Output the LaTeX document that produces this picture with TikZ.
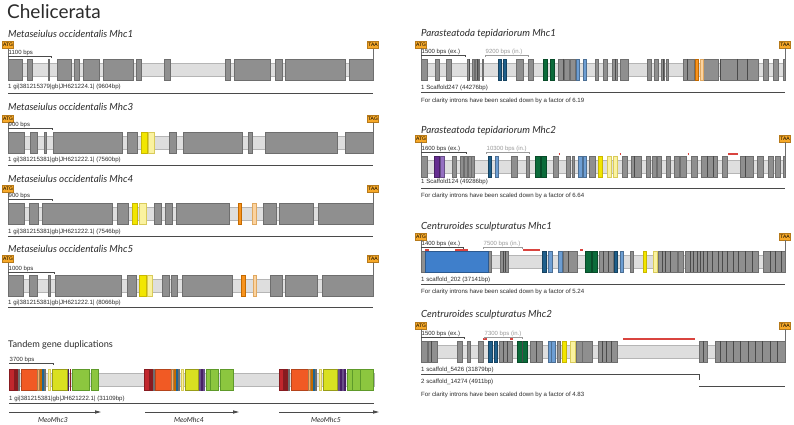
\documentclass[tikz,border=0pt]{standalone}
\usepackage{fontspec}
\setmainfont{Liberation Sans}
\newfontfamily\tfont{Lato}
\usetikzlibrary{arrows.meta}
\definecolor{exg}{HTML}{8F8F8F}
\definecolor{exb}{HTML}{6E6E6E}
\definecolor{intf}{HTML}{DEDEDE}
\definecolor{intb}{HTML}{B5B5B5}
\definecolor{dln}{HTML}{4A4A4A}
\definecolor{cyel}{HTML}{F2E600}
\definecolor{cyelb}{HTML}{C9B800}
\definecolor{clyel}{HTML}{FAF2A0}
\definecolor{clyelb}{HTML}{D9CB5A}
\definecolor{cora}{HTML}{F7931E}
\definecolor{corab}{HTML}{C46A00}
\definecolor{clora}{HTML}{FBD3A0}
\definecolor{clorab}{HTML}{E0A860}
\definecolor{cred}{HTML}{C1272D}
\definecolor{corr}{HTML}{F15A24}
\definecolor{ctyel}{HTML}{D9E021}
\definecolor{cgrn}{HTML}{8CC63F}
\definecolor{cgrnb}{HTML}{5E9A2A}
\definecolor{cblu}{HTML}{2B8FD0}
\definecolor{ctan}{HTML}{F4B06A}
\definecolor{cdb}{HTML}{1F5F8B}
\definecolor{csb}{HTML}{6D9ED3}
\definecolor{cdg}{HTML}{0B6B3A}
\definecolor{cpur}{HTML}{662D91}
\definecolor{clpur}{HTML}{9570C2}
\definecolor{cbig}{HTML}{3F7FCB}
\definecolor{cmark}{HTML}{D9443F}
\definecolor{ccod}{HTML}{F6A828}
\definecolor{ccodb}{HTML}{B77A1A}
\definecolor{ctxt}{HTML}{2B2B2B}
\definecolor{cgtx}{HTML}{9A9A9A}
\tikzset{
  x=1pt, y=-1pt,
  exg/.style={fill=exg,draw=exb,line width=0.4pt},
  exY/.style={fill=cyel,draw=cyelb,line width=0.4pt},
  exLY/.style={fill=clyel,draw=clyelb,line width=0.4pt},
  exO/.style={fill=cora,draw=corab,line width=0.4pt},
  exLO/.style={fill=clora,draw=clorab,line width=0.4pt},
  exR/.style={fill=cred,draw=cred!70!black,line width=0.4pt},
  exOR/.style={fill=corr,draw=corr!75!black,line width=0.4pt},
  exTY/.style={fill=ctyel,draw=ctyel!70!black,line width=0.4pt},
  exG/.style={fill=cgrn,draw=cgrnb,line width=0.4pt},
  exB/.style={fill=cblu,draw=cblu!70!black,line width=0.4pt},
  exT/.style={fill=ctan,draw=ctan!70!black,line width=0.4pt},
  exDB/.style={fill=cdb,draw=cdb!70!black,line width=0.4pt},
  exSB/.style={fill=csb,draw=csb!70!black,line width=0.4pt},
  exDG/.style={fill=cdg,draw=cdg!70!black,line width=0.4pt},
  exP/.style={fill=cpur,draw=cpur!70!black,line width=0.4pt},
  exLP/.style={fill=clpur,draw=clpur!70!black,line width=0.4pt},
  exBIG/.style={fill=cbig,draw=cbig!70!black,line width=0.4pt},
  codon/.style={fill=ccod,draw=ccodb,line width=0.4pt,minimum width=11pt,minimum height=7pt,inner sep=0pt,font=\fontsize{5}{5.5}\selectfont},
  codl/.style={draw=exb,line width=0.4pt},
  lab/.style={anchor=west,inner sep=0pt,text=ctxt,font=\fontsize{6.1}{7}\selectfont},
  ttl/.style={anchor=west,inner sep=0pt,text=ctxt,font=\tfont\itshape\fontsize{9.8}{11}\selectfont},
  uline/.style={draw=dln,line width=0.6pt},
  sbl/.style={anchor=south west,inner sep=0.5pt,text=ctxt,font=\fontsize{6}{7}\selectfont},
  sbg/.style={anchor=south west,inner sep=0.5pt,text=cgtx,font=\fontsize{6}{7}\selectfont},
  meo/.style={font=\tfont\itshape\fontsize{7}{8}\selectfont,text=ctxt,inner sep=0pt},
}
\def\gt{59}
\newcommand\Ex[3][exg]{\path[#1] (#2,\gt) rectangle (#3,\gt+21);}
\newcommand\Dl[1]{\draw[dln,line width=0.5pt] (#1,\gt) -- (#1,\gt+21);}
\newcommand\Intr[2]{\path[fill=intf,draw=intb,line width=0.4pt] (#1,\gt+4) rectangle (#2,\gt+17);}
\newcommand\Mk[3]{\draw[cmark,line width=1.2pt] (#1,#3) -- (#2,#3);}
% name, x, y, text, gene top
\newcommand\Cod[5]{\node[codon] (#1) at (#2,#3) {#4}; \draw[codl] (#1.south) -- (#2,#5);}
% name, x1, x2, y, text, style, color
\newcommand\Sbar[7]{\node[#6] (#1) at (#2,#4) {#5}; \draw[#7,line width=0.5pt] (#2,#4) -- (#3,#4) -- (#3,#4+2);}
\begin{document}
\begin{tikzpicture}
\useasboundingbox (0,0) rectangle (794,425);
\fill[white] (0,0) rectangle (794,425);
\node[anchor=west,inner sep=0pt,text=ctxt,font=\tfont\fontsize{19}{21}\selectfont] (head) at (7,12) {Chelicerata};

% ---------- Mhc1 ----------
\node[ttl] (t1) at (8,34) {Metaseiulus occidentalis Mhc1};
\def\gt{59}
\Intr{8}{373}
\foreach \a/\b in {8/22,27/32,48/49.5,57/71,74/79,83/99,103/133,136/141,164/170,225/230,234/270,275/282,285/345,349/373}{\Ex{\a}{\b}}
\Cod{atg1}{8}{45}{ATG}{59}
\Cod{taa1}{373}{45}{TAA}{59}
\Sbar{s1}{8}{51}{56}{1100 bps}{sbl}{dln}
\node[lab] (l1) at (8,87) {1 gi|381215379|gb|JH621224.1| (9604bp)};
\draw[uline] (8,93) -- (373,93);

% ---------- Mhc3 ----------
\node[ttl] (t2) at (8,107) {Metaseiulus occidentalis Mhc3};
\def\gt{132}
\Intr{8}{373}
\foreach \a/\b in {8/24,30/37,44/46.5,53/122,127/137,169/176,183/242,248/252,265/337,345/373}{\Ex{\a}{\b}}
\Ex[exY]{141}{147}\Ex[exLY]{148}{154}
\Cod{atg2}{8}{119}{ATG}{132}
\Cod{tag2}{373}{119}{TAG}{132}
\Sbar{s2}{8}{52}{128}{900 bps}{sbl}{dln}
\node[lab] (l2) at (8,160) {1 gi|381215381|gb|JH621222.1| (7560bp)};
\draw[uline] (8,165) -- (373,165);

% ---------- Mhc4 ----------
\node[ttl] (t3) at (8,179) {Metaseiulus occidentalis Mhc4};
\def\gt{203}
\Intr{8}{373}
\foreach \a/\b in {8/24,29/38,42/112,117/128,154/161,165/172,176/229,263/276,279/313,318/373}{\Ex{\a}{\b}}
\Ex[exY]{132}{137}\Ex[exLY]{139}{146}\Ex[exO]{238}{241}\Ex[exLO]{252}{256}
\Cod{atg3}{8}{189}{ATG}{203}
\Cod{taa3}{373}{189}{TAA}{203}
\Sbar{s3}{8}{52}{199}{900 bps}{sbl}{dln}
\node[lab] (l3) at (8,232) {1 gi|381215381|gb|JH621222.1| (7546bp)};
\draw[uline] (8,236) -- (373,236);

% ---------- Mhc5 ----------
\node[ttl] (t4) at (8,249) {Metaseiulus occidentalis Mhc5};
\def\gt{275}
\Intr{8}{373}
\foreach \a/\b in {8/23,29/37,48/50,55/121,127/136,162/169,171/177,182/232,270/282,285/317,322/373}{\Ex{\a}{\b}}
\Ex[exY]{139}{146}\Ex[exLY]{147}{152}\Ex[exO]{241}{245}\Ex[exLO]{253}{256}
\Cod{atg4}{8}{259}{ATG}{275}
\Cod{taa4}{373}{259}{TAA}{275}
\Sbar{s4}{8}{54}{272}{1000 bps}{sbl}{dln}
\node[lab] (l4) at (8,303) {1 gi|381215381|gb|JH621222.1| (8066bp)};
\draw[uline] (8,307) -- (373,307);

% ---------- Tandem ----------
\node[anchor=west,inner sep=0pt,text=ctxt,font=\tfont\fontsize{9.2}{11}\selectfont] (t5) at (8,345) {Tandem gene duplications};
\def\gt{369}
\Intr{9}{374}
% group 1
\Ex[exR]{9}{14}\Ex[exR]{15.2}{16}\Ex[exR]{16.8}{17.6}\Ex{18.4}{19.5}
\Ex[exOR]{21}{37}\Ex[exT]{37.5}{39.5}\Ex[exO]{40.3}{41}\Ex[exB]{42}{43.5}\Ex{44.6}{45.4}
\Ex[exLY]{48}{50}\Ex[exTY]{52}{67}\Ex[exP]{67.8}{68.5}\Ex[exR]{69.7}{70.4}
\Ex[exG]{72}{89}\Ex[exG]{91}{98}
% group 2
\Ex[exR]{144}{149}\Ex[exR]{150.2}{151}\Ex[exR]{151.8}{152.6}\Ex{153.4}{154.5}
\Ex[exOR]{155}{171}\Ex[exT]{171.5}{173.5}\Ex[exO]{174.3}{175}\Ex[exB]{176}{177.5}\Ex{178.6}{179.4}
\Ex[exLY]{181}{183}\Ex[exTY]{185}{198}\Ex[exLP]{199.6}{200.4}\Ex[exP]{201.6}{202.4}\Ex[exLP]{203.6}{204.4}
\Ex[exG]{206}{210}\Ex[exG]{210}{218}\Ex[exG]{220}{233}
% group 3
\Ex[exR]{279}{283}\Ex[exR]{284.6}{285.4}\Ex[exR]{286.6}{287.4}\Ex{288.2}{289.3}
\Ex[exOR]{291}{308}\Ex[exT]{308.5}{310.5}\Ex[exO]{311.2}{312}\Ex[exB]{313}{314.5}\Ex{315.6}{316.4}
\Ex[exLY]{319}{321}\Ex[exTY]{323}{337}\Ex[exLP]{338.6}{339.4}\Ex[exP]{340.6}{341.4}\Ex[exLP]{342.6}{343.4}\Ex[exP]{344.6}{345.4}
\Ex[exG]{347}{352}\Ex[exG]{352}{360}\Ex[exG]{360}{373}
\Sbar{s5}{9}{53}{363}{3700 bps}{sbl}{dln}
\node[lab] (l5) at (9,399) {1 gi|381215381|gb|JH621222.1| (31109bp)};
\draw[uline] (9,403) -- (374,403);
\coordinate (a1s) at (9,412); \coordinate (a1e) at (101,412);
\coordinate (a2s) at (145,412); \coordinate (a2e) at (239,412);
\coordinate (a3s) at (279,412); \coordinate (a3e) at (379,412);
\foreach \p in {1,2,3}{\draw[dln,line width=0.9pt,-{Triangle[length=6pt,width=3.2pt]}] (a\p s) -- (a\p e);}
\node[meo] (n3) at (53,420) {MeoMhc3};
\node[meo] (n4) at (189,420) {MeoMhc4};
\node[meo] (n5) at (326,420) {MeoMhc5};

% ---------- P. tepidariorum Mhc1 ----------
\node[ttl] (r1) at (421,34) {Parasteatoda tepidariorum Mhc1};
\def\gt{59}
\Intr{421}{785}
\foreach \a/\b in {421/427,435/439,446/451,467/469,472/474,475/477,478/479.5,482/483.5,516/523,528/533,558/563,564/569,570/575,595/598,603/607,612/617,620/628,647/651,654/658,661/664,666/668,683/687,687/694,703/718,720/737,737/747,747/758,763/768,773/778,783.5/785}{\Ex{\a}{\b}}
\Ex[exDB]{498}{501}\Ex[exDB]{503}{506}\Ex[exDG]{543}{547}\Ex[exDG]{550}{554}
\Ex[exSB]{576}{579}\Ex[exSB]{583}{586}\Ex[exO]{695}{698}\Ex[exLO]{700}{703}
\foreach \x in {469,477,563.5,615,663,687,720,737,747}{\Dl{\x}}
\Cod{atg5}{421}{44.5}{ATG}{59}
\Cod{taa5}{785}{44.5}{TAA}{59}
\Sbar{s6}{421}{465}{55}{1500 bps (ex.)}{sbl}{dln}
\Sbar{s7}{485}{528}{55}{9200 bps (in.)}{sbg}{cgtx}
\draw[cgtx,line width=0.5pt] (485,55) -- (485,57);
\node[lab] (l6) at (421,88) {1 Scaffold247 (44276bp)};
\draw[uline] (421,92.5) -- (785,92.5);
\node[lab] (c6) at (421,100.5) {For clarity introns have been scaled down by a factor of 6.19};

% ---------- P. tepidariorum Mhc2 ----------
\node[ttl] (r2) at (421,131) {Parasteatoda tepidariorum Mhc2};
\def\gt{156}
\Intr{421}{785}
\foreach \a/\b in {421/427,452/456,460/463,464/467,468/471,471/474,511/517,526/529,553/558,566/570,572/574,589/595,622/627,631/641,646/650,652/656,657/661,666/670,674/679,680/686,691/697,701/707,707/713,713/717,722/727,740/753,757/763,768/773,775/780,783.5/785}{\Ex{\a}{\b}}
\Ex[exP]{434}{439}\Ex[exLP]{440}{444}\Ex[exDB]{488}{491}\Ex[exSB]{495}{498}
\Ex[exDG]{535}{540}\Ex[exDG]{541}{546}\Ex[exSB]{578}{582}\Ex[exSB]{583}{586}
\Ex[exY]{598}{602}\Ex[exLY]{607}{611}\Ex[exLY]{613}{617}
\foreach \x in {634,707,713,745}{\Dl{\x}}
\Mk{558.5}{560}{154}\Mk{619.5}{621}{154}\Mk{687.5}{689}{154}\Mk{728}{738}{154}
\Cod{atg6}{421}{138.5}{ATG}{156}
\Cod{taa6}{785}{138.5}{TAA}{156}
\Sbar{s8}{421}{466}{152}{1600 bps (ex.)}{sbl}{dln}
\Sbar{s9}{486}{529}{152}{10300 bps (in.)}{sbg}{cgtx}
\draw[cgtx,line width=0.5pt] (486,152) -- (486,154);
\node[lab] (l7) at (421,182) {1 Scaffold124 (49286bp)};
\draw[uline] (421,188) -- (785,188);
\node[lab] (c7) at (421,196) {For clarity introns have been scaled down by a factor of 6.64};

% ---------- C. sculpturatus Mhc1 ----------
\node[ttl] (r3) at (421,227) {Centruroides sculpturatus Mhc1};
\def\gt{251}
\Intr{421}{785}
\foreach \a/\b in {421/425,488/491,500/508,563/577,599/613,630/633,658/677,678/683,685/758,763/785}{\Ex{\a}{\b}}
\Ex[exBIG]{425}{488}\Ex[exDB]{542}{546}\Ex[exSB]{548}{552}\Ex[exSB]{558}{562}
\Ex[exDG]{585}{591}\Ex[exDG]{592}{597}\Ex[exDB]{614}{617}\Ex[exSB]{620}{623}
\Ex[exY]{643}{646}\Ex[exLY]{653}{657}
\foreach \x in {503,505,568,603,608,662,665,670,690,693,697,700,703,707,712,718,722,727,733,738,745,752,770,775,781}{\Dl{\x}}
\Mk{425}{429}{250}\Mk{455}{468}{250}\Mk{523}{540}{250}\Mk{580}{583}{250}
\Cod{atg7}{421}{236.5}{ATG}{251}
\Cod{taa7}{785}{236.5}{TAA}{251}
\Sbar{s10}{421}{463}{247}{1400 bps (ex.)}{sbl}{dln}
\Sbar{s11}{483}{522}{247}{7500 bps (in.)}{sbg}{cgtx}
\draw[cgtx,line width=0.5pt] (483,247) -- (483,249);
\node[lab] (l8) at (421,280) {1 scaffold\_202 (37141bp)};
\draw[uline] (421,284) -- (785,284);
\node[lab] (c8) at (421,291.5) {For clarity introns have been scaled down by a factor of 5.24};

% ---------- C. sculpturatus Mhc2 ----------
\node[ttl] (r4) at (421,315) {Centruroides sculpturatus Mhc2};
\def\gt{341}
\Intr{421}{785}
\foreach \a/\b in {421/427,428/437,457/462,467/470,478/483,499/512,530/542,557/560,576/582,582/592,598/617,699/707,715/785}{\Ex{\a}{\b}}
\Ex[exDB]{488}{492}\Ex[exDB]{494}{497}\Ex[exDG]{517}{527}\Ex[exSB]{548}{551.5}\Ex[exSB]{551.5}{555}
\Ex[exY]{562}{566}\Ex[exLY]{570}{575}
\foreach \x in {431,503,507,522,536,602,606,611,703,720,726,733,740,748,755,762,770,777}{\Dl{\x}}
\Mk{483}{487}{339}\Mk{510}{513}{339}\Mk{623}{695}{339}
\Cod{atg8}{421}{325.5}{ATG}{341}
\Cod{taa8}{785}{325.5}{TAA}{341}
\Sbar{s12}{421}{464}{337}{1500 bps (ex.)}{sbl}{dln}
\Sbar{s13}{484}{522}{337}{7300 bps (in.)}{sbg}{cgtx}
\draw[cgtx,line width=0.5pt] (484,337) -- (484,339);
\node[lab] (l9) at (421,370) {1 scaffold\_5426 (31879bp)};
\draw[uline] (421,374) -- (699,374) -- (699,380);
\node[lab] (l10) at (421,381.5) {2 scaffold\_14274 (4911bp)};
\draw[uline] (699,386) -- (785,386);
\node[lab] (c9) at (421,394.5) {For clarity introns have been scaled down by a factor of 4.83};
\end{tikzpicture}
\end{document}
